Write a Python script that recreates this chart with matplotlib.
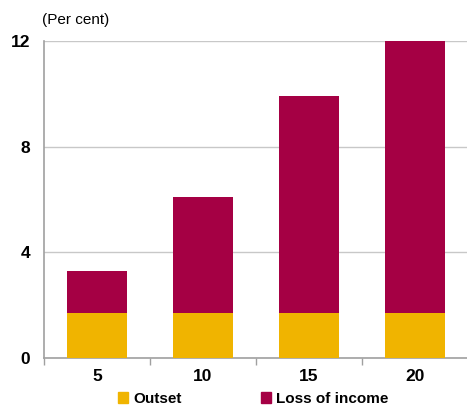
import matplotlib
matplotlib.use("Agg")
import matplotlib.pyplot as plt
from matplotlib.patches import Patch

categories = ["5", "10", "15", "20"]
outset = [1.7, 1.7, 1.7, 1.7]
totals = [3.3, 6.1, 9.9, 12.0]
loss_of_income = [t - o for t, o in zip(totals, outset)]
yticks = [0, 4, 8, 12]

plt.rcParams['font.family'] = ['Liberation Sans', 'DejaVu Sans']

c_out = "#F0B400"
c_loss = "#A50044"

fig = plt.figure(figsize=(4.67, 4.05), dpi=100)
ax = fig.add_axes([44/467, (405-358)/405, (468-44)/467, (358-41)/405])

x = range(len(categories))
ax.bar(x, outset, width=0.56, color=c_out, zorder=3, clip_on=False)
ax.bar(x, loss_of_income, bottom=outset, width=0.56, color=c_loss, zorder=3, clip_on=False)

ax.set_xlim(-0.5, len(categories) - 0.5)
ax.set_ylim(0, 12)
ax.set_yticks(yticks)
ax.set_yticklabels([str(v) for v in yticks], fontsize=12.5, fontweight='bold')
ax.tick_params(axis='y', length=0, pad=10)
ax.yaxis.grid(True, color="#C8C8C8", linewidth=1.0, zorder=0)

ax.set_xticks([i + 0.5 for i in range(-1, len(categories))])
ax.set_xticklabels([])
ax.tick_params(axis='x', which='major', length=5, color="#A0A0A0", width=1)
ax.set_xticks(list(x), minor=True)
ax.set_xticklabels(categories, minor=True, fontsize=12.5, fontweight='bold')
ax.tick_params(axis='x', which='minor', length=0, pad=8)

for s in ['top', 'right']:
    ax.spines[s].set_visible(False)
for s in ['left', 'bottom']:
    ax.spines[s].set_color("#A0A0A0")
    ax.spines[s].set_linewidth(1.2)

fig.text(42/467, 1 - 20/405, "(Per cent)", fontsize=11, va='center', ha='left')

handles = [Patch(color=c_out, label="Outset"), Patch(color=c_loss, label="Loss of income")]
fig.legend(handles=handles, loc='center', bbox_to_anchor=(253/467, 1 - 399/405), ncol=2,
           frameon=False, prop={'weight': 'bold', 'size': 11},
           handlelength=0.7, handleheight=0.7, handletextpad=0.3, columnspacing=5.2)

fig.savefig("out.png", dpi=100)
